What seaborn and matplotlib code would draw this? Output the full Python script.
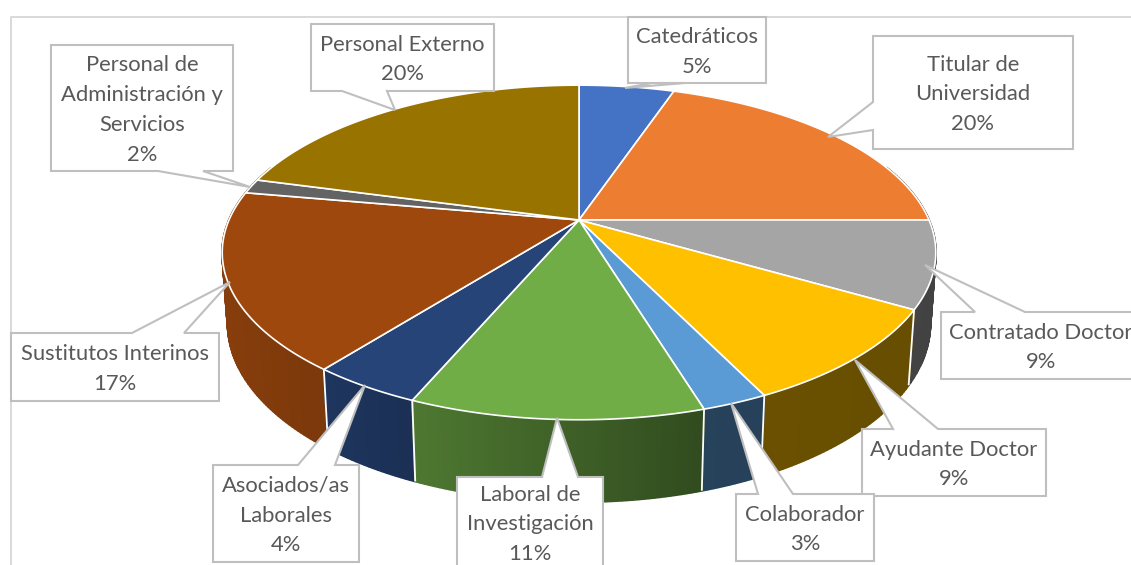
import numpy as np
import matplotlib
matplotlib.use("Agg")
import matplotlib.pyplot as plt
import seaborn as sns

# ---- data ----
categories = ["Catedráticos", "Titular de\nUniversidad", "Contratado Doctor", "Ayudante Doctor",
              "Colaborador", "Laboral de\nInvestigación", "Asociados/as\nLaborales",
              "Sustitutos Interinos", "Personal de\nAdministración y\nServicios", "Personal Externo"]
shares = [5.2, 19.8, 8.4, 9.4, 2.5, 11.1, 4.2, 17.2, 1.4, 20.8]
share_labels = ["5%", "20%", "9%", "9%", "3%", "11%", "4%", "17%", "2%", "20%"]
colors = ["#4472C4", "#ED7D31", "#A5A5A5", "#FFC000", "#5B9BD5",
          "#70AD47", "#264478", "#9E480E", "#636363", "#997300"]

# ---- layout (pixel space of the figure) ----
W, H = 1131, 565
CX, CY, A, B, K, DEPTH, E = 579, 220, 350, 161, 0.194, 70.5, 0.015
LINE, BASE = 29.7, 8.0
boxes = [  # x0, y0, x1, y1, tail start, tail tip, tail end
    (628, 17, 766, 83, (652, 83), (625, 88), (685, 83)),
    (873, 36, 1073, 149, (873, 102), (828, 137), (873, 130)),
    (941, 312, 1141, 379, (1025, 312), (925, 265), (975, 312)),
    (862, 429, 1046, 496, (938, 429), (855, 360), (893, 429)),
    (736, 494, 874, 561, (793, 494), (731, 403), (758, 494)),
    (457, 477, 603, 568, (578, 477), (557, 418), (542, 477)),
    (213, 465, 359, 562, (335, 465), (365, 385), (298, 465)),
    (11, 333, 219, 401, (184, 333), (230, 282), (132, 333)),
    (51, 45, 233, 171, (203, 171), (250, 187), (158, 171)),
    (311, 24, 494, 91, (387, 91), (395, 110), (342, 91)),
]
TEXT_C = "#595959"; BOX_C = "#BFBFBF"; FRAME_C = "#D9D9D9"

sns.set_style("white")
plt.rcParams["font.family"] = ["Lato", "DejaVu Sans"]
fig = plt.figure(figsize=(W / 100, H / 100), dpi=100)
ax = fig.add_axes([0, 0, 1, 1])
ax.set_xlim(0, W); ax.set_ylim(H, 0); ax.axis("off")
palette = sns.color_palette(colors)


def top(theta):
    x, y = np.sin(theta), np.cos(theta)
    w = 1 + K * y
    return CX + A * x / w, CY - B * y / w


def bottom(theta):
    x, y = np.sin(theta), np.cos(theta)
    w = 1 + K * y + E
    return CX + A * x / w, CY + (DEPTH - B * y) / w


def shade(theta):
    return np.interp(np.sin(theta), [-1, -.6, -.4, .33, 1], [.87, .78, .7, .42, .40])


edges = np.cumsum([0] + shares) / np.sum(shares) * 2 * np.pi

# side wall, back to front
strips = []
for i, c in enumerate(palette):
    ts = np.linspace(edges[i], edges[i + 1], max(3, int(shares[i] * 5)))
    for t0, t1 in zip(ts[:-1], ts[1:]):
        tm = (t0 + t1) / 2
        if np.cos(tm) < 0.35:
            strips.append((np.cos(tm), t0, t1, c))
for _, t0, t1, c in sorted(strips, key=lambda s: -s[0]):
    tt = np.array([t0, t1])
    xt, yt = top(tt); xb, yb = bottom(tt[::-1])
    col = tuple(np.array(c) * shade((t0 + t1) / 2))
    ax.fill(np.r_[xt, xb], np.r_[yt, yb], fc=col, ec=col, lw=1.5, zorder=2, joinstyle="bevel")

# white seams of the wall
for t in edges[:-1]:
    if np.cos(t) < 0.1:
        xt, yt = top(t); xb, yb = bottom(t)
        ax.plot([xt, xb], [yt, yb], color="white", lw=1.3, zorder=3, solid_capstyle="butt")

# top face
for i, c in enumerate(palette):
    ts = np.linspace(edges[i], edges[i + 1], 120)
    xs, ys = top(ts)
    ax.fill(np.r_[CX, xs], np.r_[CY, ys], fc=c, ec="white", lw=1.2, zorder=4, joinstyle="round")

# frame of the chart area
ax.plot([11, 11, W], [H, 16.5, 16.5], color=FRAME_C, lw=1.4, zorder=1)

# callouts
for (x0, y0, x1, y1, p, tip, q), name, pct in zip(boxes, categories, share_labels):
    on_left = p[0] == q[0] == x0
    on_bottom = p[1] == q[1] == y1
    if on_left:
        pts = [(x0, y0), (x1, y0), (x1, y1), (x0, y1), q, tip, p]
    elif on_bottom:
        pts = [(x0, y0), (x1, y0), (x1, y1), p, tip, q, (x0, y1)]
    else:
        pts = [(x0, y0), q, tip, p, (x1, y0), (x1, y1), (x0, y1)]
    ax.fill(*zip(*pts), fc="white", ec=BOX_C, lw=1.5, zorder=6, joinstyle="miter", clip_on=True)
    rows = name.split("\n") + [pct]
    yc = (y0 + y1) / 2
    for k, row in enumerate(rows):
        ax.text((x0 + x1) / 2, yc + (k - (len(rows) - 1) / 2) * LINE + BASE, row, ha="center", va="baseline",
                fontsize=15.8, color=TEXT_C, zorder=7, clip_on=True)

fig.savefig("out.png", dpi=100, facecolor="white")
